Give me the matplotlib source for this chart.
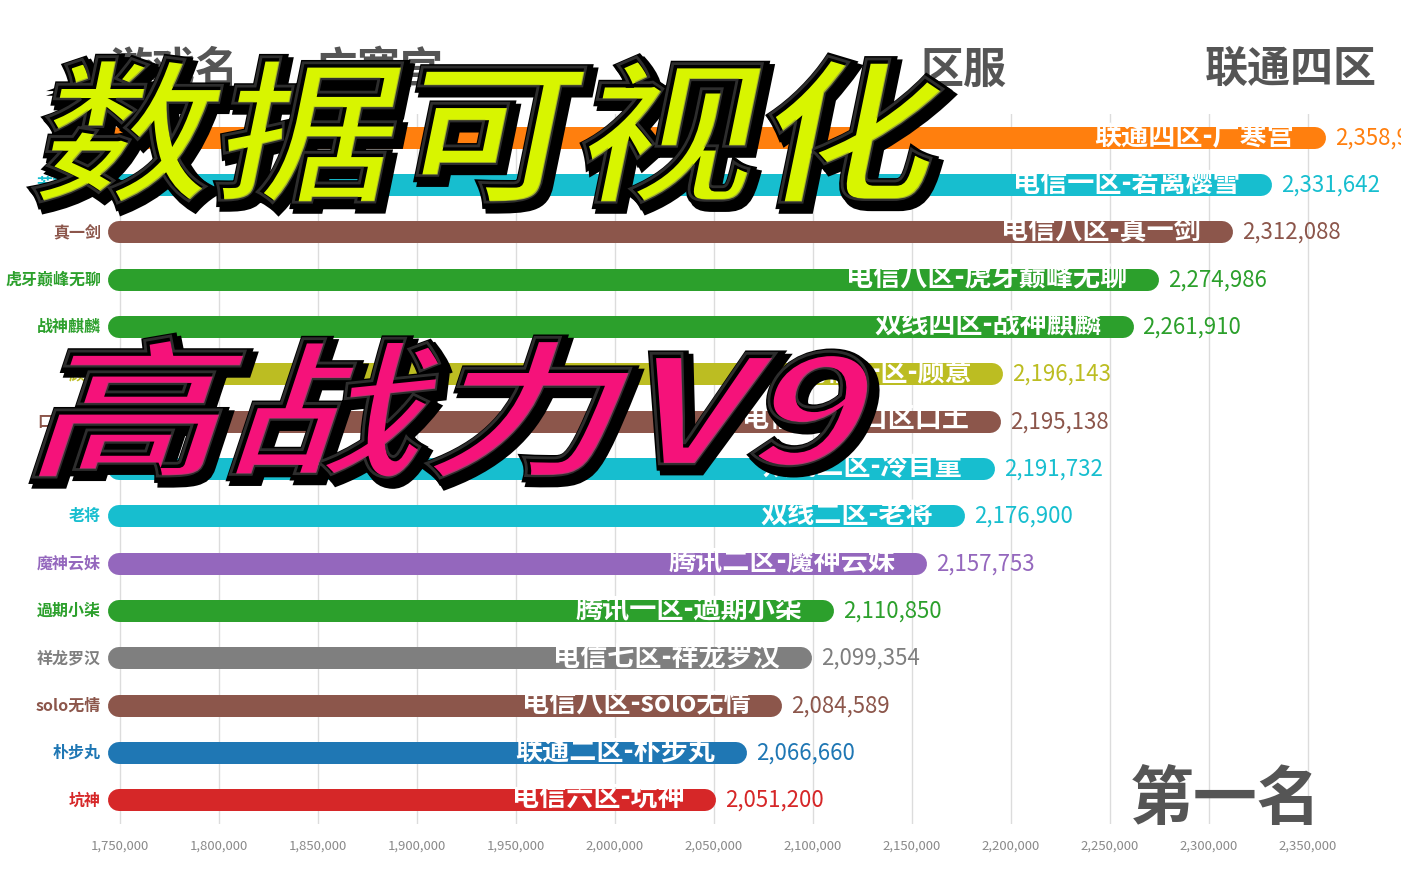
import matplotlib
matplotlib.use("Agg")
import matplotlib.pyplot as plt
import matplotlib.patheffects as pe
from matplotlib.textpath import TextPath
from matplotlib.patches import PathPatch
from matplotlib.font_manager import FontProperties
from matplotlib.transforms import Affine2D, IdentityTransform
from matplotlib.ticker import FuncFormatter

plt.rcParams['font.family'] = ['Noto Sans CJK SC', 'DejaVu Sans']

# data, top to bottom
names = ['广寒宫', '若离樱雪', '真一剑', '虎牙巅峰无聊', '战神麒麟', '顾意', '口区口土',
         '冷目童', '老将', '魔神云妹', '過期小柒', '祥龙罗汉', 'solo无情', '朴步丸', '坑神']
servers = ['联通四区', '电信一区', '电信八区', '电信八区', '双线四区', '电信一区', '电信二区',
           '双线二区', '双线二区', '腾讯二区', '腾讯一区', '电信七区', '电信八区', '联通二区', '电信六区']
values = [2358960, 2331642, 2312088, 2274986, 2261910, 2196143, 2195138,
          2191732, 2176900, 2157753, 2110850, 2099354, 2084589, 2066660, 2051200]
colors = ['#ff7f0e', '#17becf', '#8c564b', '#2ca02c', '#2ca02c', '#bcbd22', '#8c564b',
          '#17becf', '#17becf', '#9467bd', '#2ca02c', '#7f7f7f', '#8c564b', '#1f77b4', '#d62728']
ticks = [1750000 + 50000 * k for k in range(13)]

W, H = 1401, 876
fig = plt.figure(figsize=(W / 100, H / 100), dpi=100)
fig.patch.set_facecolor('white')

ax_l, ax_r, ax_top, ax_bot = 108, 1340, 114, 824
ax = fig.add_axes([ax_l / W, (H - ax_bot) / H, (ax_r - ax_l) / W, (ax_bot - ax_top) / H])
xmin = 1750000 - 12 / 99 * 50000
xmax = 1750000 + (ax_r - 120) / 99 * 50000
ax.set_xlim(xmin, xmax)
ax.set_ylim(len(values) - 0.5, -0.5)
for s in ax.spines.values():
    s.set_visible(False)
ax.set_yticks([])
ax.set_xticks(ticks)
ax.xaxis.set_major_formatter(FuncFormatter(lambda v, p: f'{int(v):,}'))
ax.tick_params(axis='x', length=0, pad=11, labelsize=9.5, labelcolor='#8a8a8a')
ax.grid(axis='x', color='#dcdcdc', lw=1)
ax.set_axisbelow(True)

bar_px = 22
unit = (xmax - xmin) / (ax_r - ax_l)  # data per pixel
half = bar_px / 2 * unit
for i, (v, c) in enumerate(zip(values, colors)):
    ax.plot([xmin + half, v - half], [i, i], color=c, lw=bar_px * 0.72,
            solid_capstyle='round', zorder=2)
    ax.annotate(f'{servers[i]}-{names[i]}', (v, i), xytext=(-32 * 0.72, 1),
                textcoords='offset points', ha='right', va='center',
                fontsize=19.5, fontweight='bold', color='white', zorder=3)
    ax.annotate(f'{v:,}', (v, i), xytext=(9 * 0.72, 0), textcoords='offset points',
                ha='left', va='center', fontsize=16, color=c, zorder=3,
                annotation_clip=False)
    ax.annotate(names[i], (xmin, i), xytext=(-7 * 0.72, 0), textcoords='offset points',
                ha='right', va='center', fontsize=11.5, fontweight='bold', color=c,
                annotation_clip=False)

# header and footer text
hc = '#555555'
for txt, x0 in [('游戏名', 110), ('广寒宫', 315), ('区服', 920), ('联通四区', 1205)]:
    fig.text(x0 / W, 1 - 70 / H, txt, fontsize=31, fontweight='bold', color=hc,
             ha='left', va='center')
fig.text(1130 / W, 1 - 800 / H, '第一名', fontsize=46, fontweight='bold', color=hc,
         ha='left', va='center')

# big overlay titles
fp = FontProperties(family='Noto Sans CJK SC', weight='bold')


def big_title(text, x0, x1, y0, y1, face, skew):
    path = TextPath((0, 0), text, size=100, prop=fp)
    path = Affine2D().skew_deg(skew, 0).transform_path(path)
    ext = path.get_extents()
    sx = (x1 - x0) / ext.width
    sy = (y1 - y0) / ext.height
    tr = (Affine2D().translate(-ext.x0, -ext.y0).scale(sx, sy)
          .translate(x0, H - y1))
    p = tr.transform_path(path)
    shadow = Affine2D().translate(4, -4).transform_path(p)
    fig.patches.append(PathPatch(shadow, transform=IdentityTransform(), fc='#222222',
                                 ec='black', lw=8, zorder=10, figure=fig))
    fig.patches.append(PathPatch(p, transform=IdentityTransform(), fc=face,
                                 ec='black', lw=4, zorder=11, figure=fig,
                                 path_effects=[pe.Stroke(linewidth=7, foreground='black'),
                                               pe.Normal()]))
    inner = Affine2D().translate(-2, 2).transform_path(p)
    fig.patches.append(PathPatch(inner, transform=IdentityTransform(), fc='none',
                                 ec=(0.4, 0.4, 0.4, 0.45), lw=2, zorder=12, figure=fig))


big_title('数据可视化', 35, 945, 58, 205, '#d8f500', 10)
big_title('高战力V9', 35, 870, 338, 480, '#f5127a', 14)

fig.savefig('out.png', dpi=100)
